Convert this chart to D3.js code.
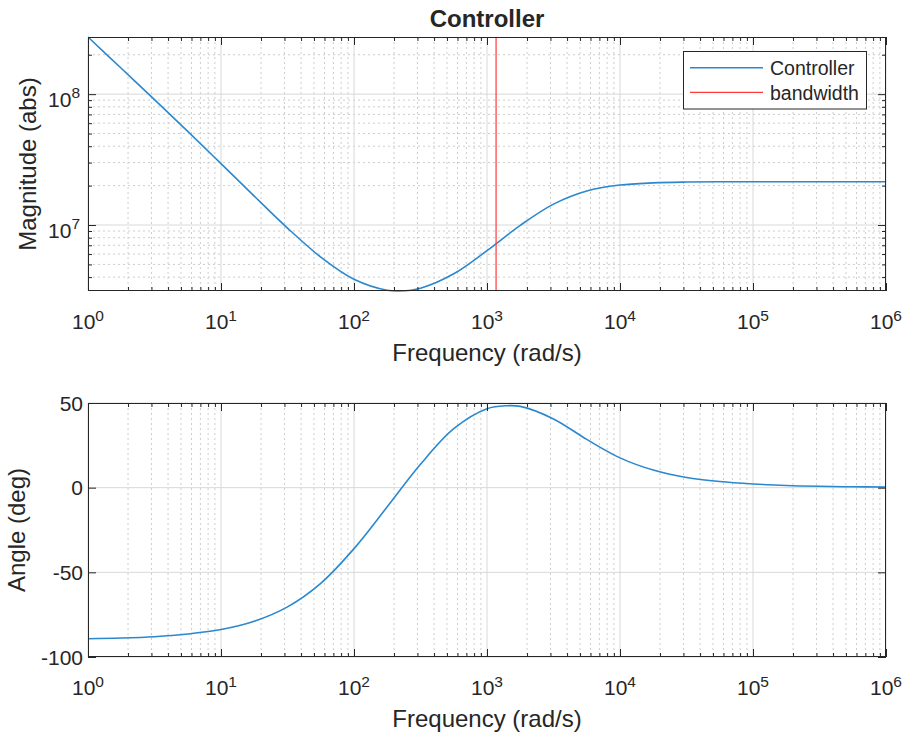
<!DOCTYPE html>
<html>
<head>
<meta charset="utf-8">
<script src="https://cdn.jsdelivr.net/npm/d3@7"></script>
<style>
  body { margin: 0; background: #fff; }
  text { font-family: "Liberation Sans", Arial, Helvetica, sans-serif; fill: #262626; }
</style>
</head>
<body>
<div id="fig"></div>
<script>
// values
const freqMag = [1, 1.778, 3.162, 5.623, 10, 17.78, 31.62, 56.23, 100, 177.8, 220, 316.2, 562.3,
  1000, 1778, 3162, 5623, 10000, 17783, 31623, 56234, 100000, 316228, 1000000];
const magnitude = [2.733e8, 1.576e8, 9.093e7, 5.201e7, 2.946e7, 1.664e7, 9.478e6, 5.692e6,
  3.853e6, 3.172e6, 3.132e6, 3.293e6, 4.242e6, 6.376e6, 9.938e6, 1.444e7, 1.820e7, 2.021e7,
  2.099e7, 2.129e7, 2.139e7, 2.142e7, 2.143e7, 2.143e7];

const freqPhase = [1, 1.778, 3.162, 5.623, 10, 17.78, 31.62, 56.23, 100, 177.8, 316.2, 562.3,
  1000, 1400, 1778, 3162, 5623, 10000, 17783, 31623, 56234, 100000, 177828, 316228, 562341, 1000000];
const phase = [-89.2, -88.8, -88.0, -86.4, -83.8, -78.9, -70.4, -56.5, -36.0, -11.3, 13.8, 34.8,
  46.6, 48.4, 48.0, 40.6, 28.5, 17.6, 10.4, 6.0, 3.6, 2.2, 1.3, 0.8, 0.5, 0.4];

const bandwidth = 1170;
const seriesNames = ["Controller", "bandwidth"];

const xTickExp = [0, 1, 2, 3, 4, 5, 6];
const magTickExp = [7, 8];
const angleTicks = [-100, -50, 0, 50];

const W = 907, H = 733;
const left = 88, right = 886;
const top1 = 37, bot1 = 291, top2 = 403, bot2 = 657;
const blue = "#2a88cf", red = "#ff3a3a", axisCol = "#262626";

const svg = d3.select('#fig').append('svg')
    .attr('width', W)
    .attr('height', H);

const x = d3.scaleLog().domain([1, 1e6]).range([left, right]);
const yMag = d3.scaleLog().domain(d3.extent(magnitude)).range([bot1, top1]);
const yAng = d3.scaleLinear().domain([-100, 50]).range([bot2, top2]);

// minor positions for the log axes
const xMajor = xTickExp.map(e => Math.pow(10, e));
const xMinor = [];
xTickExp.slice(0, -1).forEach(e => { for (let k = 2; k <= 9; k++) xMinor.push(k * Math.pow(10, e)); });
const magMajor = magTickExp.map(e => Math.pow(10, e));
const magMinor = [];
[6, 7, 8].forEach(e => {
  for (let k = 2; k <= 9; k++) {
    const v = k * Math.pow(10, e);
    if (v >= yMag.domain()[0] && v <= yMag.domain()[1]) magMinor.push(v);
  }
});

function drawGrid(g, yScale, yMajor, yMinor, y0, y1) {
  g.selectAll('.xminor').data(xMinor).join('line')
      .attr('x1', d => x(d)).attr('x2', d => x(d))
      .attr('y1', y0).attr('y2', y1)
      .attr('stroke', '#cdcdcd').attr('stroke-dasharray', '2,3').attr('stroke-width', 1);
  g.selectAll('.yminor').data(yMinor).join('line')
      .attr('x1', left).attr('x2', right)
      .attr('y1', d => yScale(d)).attr('y2', d => yScale(d))
      .attr('stroke', '#cdcdcd').attr('stroke-dasharray', '2,3').attr('stroke-width', 1);
  g.selectAll('.xmajor').data(xMajor).join('line')
      .attr('x1', d => x(d)).attr('x2', d => x(d))
      .attr('y1', y0).attr('y2', y1)
      .attr('stroke', '#d8d8d8').attr('stroke-width', 1);
  g.selectAll('.ymajor').data(yMajor).join('line')
      .attr('x1', left).attr('x2', right)
      .attr('y1', d => yScale(d)).attr('y2', d => yScale(d))
      .attr('stroke', '#d8d8d8').attr('stroke-width', 1);
}

function drawTicks(yScale, yMajor, yMinor, y0, y1) {
  const sets = [
    [d3.axisBottom(x).tickValues(xMajor).tickSize(-8), `translate(0,${y1})`],
    [d3.axisBottom(x).tickValues(xMinor).tickSize(-4), `translate(0,${y1})`],
    [d3.axisTop(x).tickValues(xMajor).tickSize(-8), `translate(0,${y0})`],
    [d3.axisTop(x).tickValues(xMinor).tickSize(-4), `translate(0,${y0})`],
    [d3.axisLeft(yScale).tickValues(yMajor).tickSize(-8), `translate(${left},0)`],
    [d3.axisLeft(yScale).tickValues(yMinor).tickSize(-4), `translate(${left},0)`],
    [d3.axisRight(yScale).tickValues(yMajor).tickSize(-8), `translate(${right},0)`],
    [d3.axisRight(yScale).tickValues(yMinor).tickSize(-4), `translate(${right},0)`]
  ];
  sets.forEach(([ax, tr]) => {
    const a = svg.append('g').attr('transform', tr).call(ax.tickFormat(''));
    a.select('.domain').remove();
    a.selectAll('line').attr('stroke', axisCol);
  });
  svg.append('rect')
      .attr('x', left + 0.5).attr('y', y0 + 0.5)
      .attr('width', right - left - 1).attr('height', y1 - y0 - 1)
      .attr('fill', 'none').attr('stroke', axisCol).attr('stroke-width', 1);
}

function powLabel(sel, base, exp, xPos, yPos, anchor, supDy) {
  const t = sel.append('text')
      .attr('x', xPos).attr('y', yPos)
      .attr('text-anchor', anchor)
      .attr('font-size', '21px');
  t.append('tspan').text(base);
  t.append('tspan').attr('dy', supDy).attr('font-size', '15.5px').text(exp);
}

function xLabels(y1) {
  xTickExp.forEach(e => powLabel(svg, '10', e, x(Math.pow(10, e)), y1 + 37.5, 'middle', -8));
  svg.append('text')
      .attr('x', (left + right) / 2).attr('y', y1 + 70)
      .attr('text-anchor', 'middle').attr('font-size', '24px')
      .text('Frequency (rad/s)');
}

// ---------- top: magnitude ----------
const g1 = svg.append('g');
drawGrid(g1, yMag, magMajor, magMinor, top1, bot1);

const defs = svg.append('defs');
defs.append('clipPath').attr('id', 'clip1')
  .append('rect').attr('x', left).attr('y', top1 - 1).attr('width', right - left).attr('height', bot1 - top1 + 2);
defs.append('clipPath').attr('id', 'clip2')
  .append('rect').attr('x', left).attr('y', top2).attr('width', right - left).attr('height', bot2 - top2);

const magLine = d3.line()
    .x((d, i) => x(freqMag[i]))
    .y(d => yMag(d))
    .curve(d3.curveCatmullRom.alpha(0.5));

svg.append('path')
    .attr('clip-path', 'url(#clip1)')
    .attr('d', magLine(magnitude))
    .attr('fill', 'none').attr('stroke', blue).attr('stroke-width', 1.6);

svg.append('line')
    .attr('x1', x(bandwidth)).attr('x2', x(bandwidth))
    .attr('y1', top1).attr('y2', bot1)
    .attr('stroke', red).attr('stroke-width', 1.2);

drawTicks(yMag, magMajor, magMinor, top1, bot1);
xLabels(bot1);
magTickExp.forEach(e => powLabel(svg, '10', e, 80, yMag(Math.pow(10, e)) + 13, 'end', -9));

svg.append('text')
    .attr('transform', `translate(35.5,${(top1 + bot1) / 2}) rotate(-90)`)
    .attr('text-anchor', 'middle').attr('font-size', '24px')
    .text('Magnitude (abs)');

svg.append('text')
    .attr('x', (left + right) / 2).attr('y', 27)
    .attr('text-anchor', 'middle').attr('font-size', '24px').attr('font-weight', 'bold')
    .text('Controller');

// legend
const leg = svg.append('g');
leg.append('rect')
    .attr('x', 683.5).attr('y', 51.5).attr('width', 183).attr('height', 57.5)
    .attr('fill', '#fff').attr('stroke', axisCol).attr('stroke-width', 1);
[blue, red].forEach((c, i) => {
  const ly = 67.7 + i * 24.7;
  leg.append('line').attr('x1', 690).attr('x2', 763).attr('y1', ly).attr('y2', ly)
      .attr('stroke', c).attr('stroke-width', i === 0 ? 1.6 : 1.2);
  leg.append('text').attr('x', 770).attr('y', ly + 7.5)
      .attr('font-size', '19.5px').text(seriesNames[i]);
});

// ---------- bottom: phase ----------
const g2 = svg.append('g');
drawGrid(g2, yAng, angleTicks, [], top2, bot2);

const phaseLine = d3.line()
    .x((d, i) => x(freqPhase[i]))
    .y(d => yAng(d))
    .curve(d3.curveCatmullRom.alpha(0.5));

svg.append('path')
    .attr('clip-path', 'url(#clip2)')
    .attr('d', phaseLine(phase))
    .attr('fill', 'none').attr('stroke', blue).attr('stroke-width', 1.6);

drawTicks(yAng, angleTicks, [], top2, bot2);
xLabels(bot2);
angleTicks.forEach(v => {
  svg.append('text')
      .attr('x', 83).attr('y', yAng(v) + 7.5)
      .attr('text-anchor', 'end').attr('font-size', '21px')
      .text(v);
});

svg.append('text')
    .attr('transform', `translate(25,${(top2 + bot2) / 2}) rotate(-90)`)
    .attr('text-anchor', 'middle').attr('font-size', '24px')
    .text('Angle (deg)');
</script>
</body>
</html>
